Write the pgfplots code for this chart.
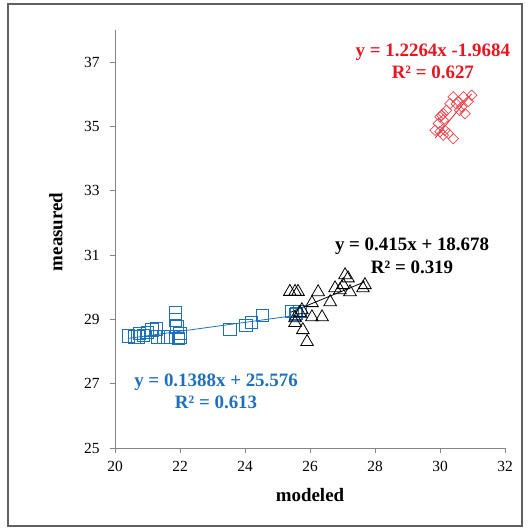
\documentclass[border=0pt]{standalone}
\usepackage{fontspec}
\setmainfont{Liberation Serif}
\usepackage{pgfplots}
\pgfplotsset{compat=1.18}
\definecolor{eqblue}{RGB}{31,112,186}
\definecolor{eqred}{RGB}{232,22,32}
\definecolor{axgray}{RGB}{134,134,134}

\begin{document}
\begin{tikzpicture}[x=1bp,y=1bp]
\useasboundingbox (-115,-82) rectangle (413,448);
\draw[gray!75!black, line width=1.2bp] (-107,-78) rectangle (407,444);
\begin{axis}[
    at={(0,0)}, anchor=south west,
    scale only axis, width=390bp, height=418bp,
    xmin=20, xmax=32, ymin=25, ymax=38,
    xtick={20,22,...,32}, ytick={25,27,...,37},
    axis x line*=bottom, axis y line*=left,
    axis line style={axgray, line width=0.8bp},
    tick style={axgray, line width=0.8bp},
    major tick length=5bp, tick align=outside,
    tick label style={font=\fontsize{15.5}{18}\selectfont},
    /pgf/number format/assume math mode=true,
    xticklabel style={yshift=-5bp},
    yticklabel style={xshift=-7bp},
    xlabel={modeled}, ylabel={measured},
    label style={font=\fontsize{19}{22}\selectfont\bfseries},
    xlabel style={at={(rel axis cs:0.5,0)}, anchor=center, yshift=-47bp},
    ylabel style={at={(rel axis cs:0,0.517)}, anchor=center, yshift=59bp},
    clip=false,
]
% blue squares
\addplot[only marks, mark=square, mark size=6.2bp, mark options={eqblue, line width=0.8bp}] coordinates {
 (20.41,28.49) (20.6,28.46) (20.7,28.45) (20.75,28.56) (20.87,28.51) (21.0,28.6)
 (21.13,28.67) (21.28,28.7) (21.32,28.45) (21.48,28.45) (21.63,28.45)
 (21.85,29.2) (21.85,28.98) (21.9,28.77) (22.0,28.45) (22.0,28.57) (21.95,28.4)
 (23.54,28.69) (24.03,28.82) (24.2,28.9) (24.54,29.13)
 (25.44,29.24) (25.59,29.19) (25.69,29.24) (25.55,29.15)
};
\addplot[eqblue, line width=0.8bp] coordinates {(20.41,28.409) (25.69,29.142)};
% black triangles
\addplot[only marks, mark=triangle, mark size=7.3bp, mark options={black, line width=0.8bp}] coordinates {
 (25.38,29.86) (25.54,29.86) (25.63,29.86) (26.25,29.85) (26.06,29.51) (26.62,29.54)
 (26.77,29.97) (27.08,30.38) (27.17,30.28) (27.02,30.07) (26.92,29.91) (27.23,29.85)
 (27.69,30.07) (27.63,29.97) (25.75,29.29) (25.54,29.04) (26.06,29.07) (26.37,29.07)
 (25.54,28.89) (25.78,28.67) (25.91,28.3) (25.69,29.2)
};
\addplot[black, line width=0.8bp] coordinates {(25.38,29.211) (27.69,30.170)};
% red diamonds
\addplot[only marks, mark=square, mark size=3.7bp, mark options={eqred!80, rotate=45, line width=0.7bp}] coordinates {
 (30.41,35.92) (30.72,35.92) (30.97,35.97) (30.56,35.78) (30.87,35.78) (30.31,35.71)
 (30.67,35.61) (30.2,35.5) (30.1,35.4) (30.77,35.4) (30.0,35.3) (30.1,35.2)
 (29.95,35.09) (29.85,34.88) (30.0,34.84) (30.15,34.88) (30.26,34.78) (30.1,34.73)
 (30.41,34.62) (30.5,35.7) (30.05,35.35) (30.6,35.5)
};
\addplot[eqred, line width=0.8bp] coordinates {(29.85,34.640) (30.97,36.014)};
% equations
\node[align=center, text=eqred, font=\fontsize{19}{22.5}\selectfont\bfseries] at (axis cs:29.78,37.03) {y = 1.2264x -1.9684\\R² = 0.627};
\node[align=center, text=black, font=\fontsize{19}{22.5}\selectfont\bfseries] at (axis cs:29.14,30.97) {y = 0.415x + 18.678\\R² = 0.319};
\node[align=center, text=eqblue, font=\fontsize{19}{22.5}\selectfont\bfseries] at (axis cs:23.11,26.77) {y = 0.1388x + 25.576\\R² = 0.613};
\end{axis}
\end{tikzpicture}
\end{document}
